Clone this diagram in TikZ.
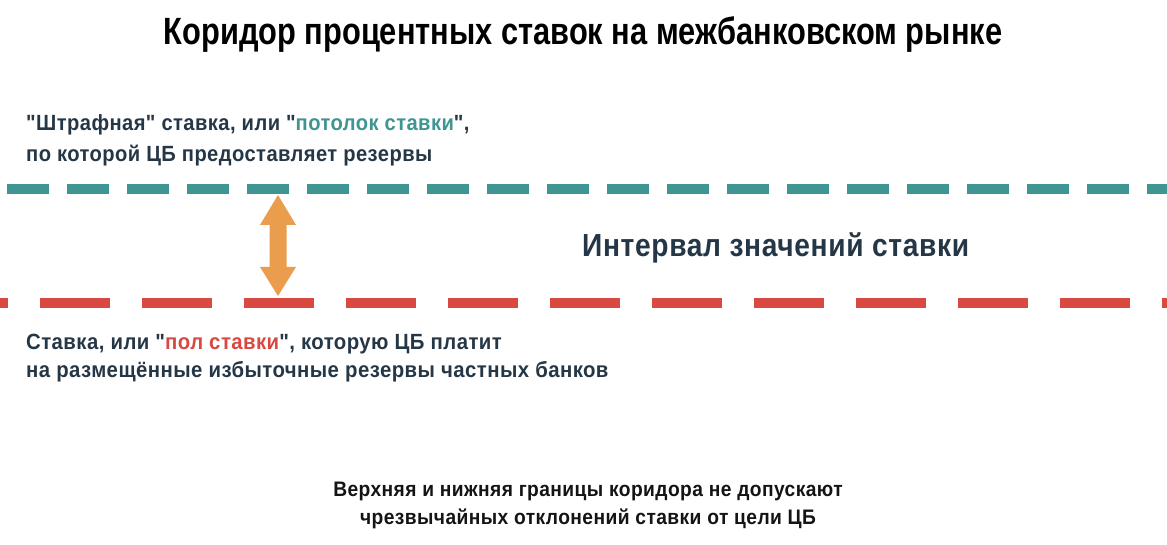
\documentclass[tikz,border=0pt]{standalone}
\usepackage{fontspec}
\setmainfont{Liberation Sans}
\newfontfamily\titlefont[FakeStretch=0.81]{Liberation Sans}
\newfontfamily\upfont[FakeStretch=0.915,LetterSpace=2]{Liberation Sans}
\newfontfamily\lofont[FakeStretch=0.925,LetterSpace=2]{Liberation Sans}
\newfontfamily\midfont[FakeStretch=0.88,LetterSpace=2]{Liberation Sans}
\newfontfamily\botfont[FakeStretch=0.915,LetterSpace=2]{Liberation Sans}
\definecolor{navy}{HTML}{253746}
\definecolor{tealc}{HTML}{3F9591}
\definecolor{redc}{HTML}{D94841}
\definecolor{orangec}{HTML}{EA9D4C}
\begin{document}
\begin{tikzpicture}[x=1pt,y=1pt,
  uptxt/.style={inner sep=0pt, text=navy, anchor=base west, font=\upfont\bfseries\fontsize{22}{26}\selectfont},
  lotxt/.style={inner sep=0pt, text=navy, anchor=base west, font=\lofont\bfseries\fontsize{22}{26}\selectfont},
  btxt/.style={inner sep=0pt, text=black!92, font=\botfont\bfseries\fontsize{21}{24}\selectfont, anchor=base},
  ceiling/.style={draw=tealc, line width=10pt, dash pattern=on 42pt off 18pt},
  floor/.style={draw=redc, line width=10pt, dash pattern=on 70pt off 32pt}]
\useasboundingbox (0,0) rectangle (1167,545);
\node[anchor=base, inner sep=0pt, font=\titlefont\bfseries\fontsize{38}{44}\selectfont] (title) at (583,500) {Коридор процентных ставок на межбанковском рынке};
\node[uptxt] (up1) at (26,414) {"Штрафная" ставка, или "\textcolor{tealc}{потолок ставки}",};
\node[uptxt] (up2) at (26,383) {по которой ЦБ предоставляет резервы};
\coordinate (cl0) at (7,356);
\coordinate (cl1) at (1200,356);
\draw[ceiling] (cl0) -- (cl1);
\coordinate (fl0) at (-62,242);
\coordinate (fl1) at (1200,242);
\draw[floor] (fl0) -- (fl1);
\fill[orangec] (278,350) -- (296,320) -- (286.5,320) -- (286.5,278) -- (296,278) -- (278,249) -- (260,278) -- (269.5,278) -- (269.5,320) -- (260,320) -- cycle;
\node[inner sep=0pt, text=navy, anchor=base west, font=\midfont\bfseries\fontsize{32}{36}\selectfont] (mid) at (582,288) {Интервал значений ставки};
\node[lotxt] (lo1) at (26,195) {Ставка, или "\textcolor{redc}{пол ставки}", которую ЦБ платит};
\node[lotxt] (lo2) at (26,167) {на размещённые избыточные резервы частных банков};
\node[btxt] (bot1) at (588,48) {Верхняя и нижняя границы коридора не допускают};
\node[btxt] (bot2) at (588,20) {чрезвычайных отклонений ставки от цели ЦБ};
\end{tikzpicture}
\end{document}
